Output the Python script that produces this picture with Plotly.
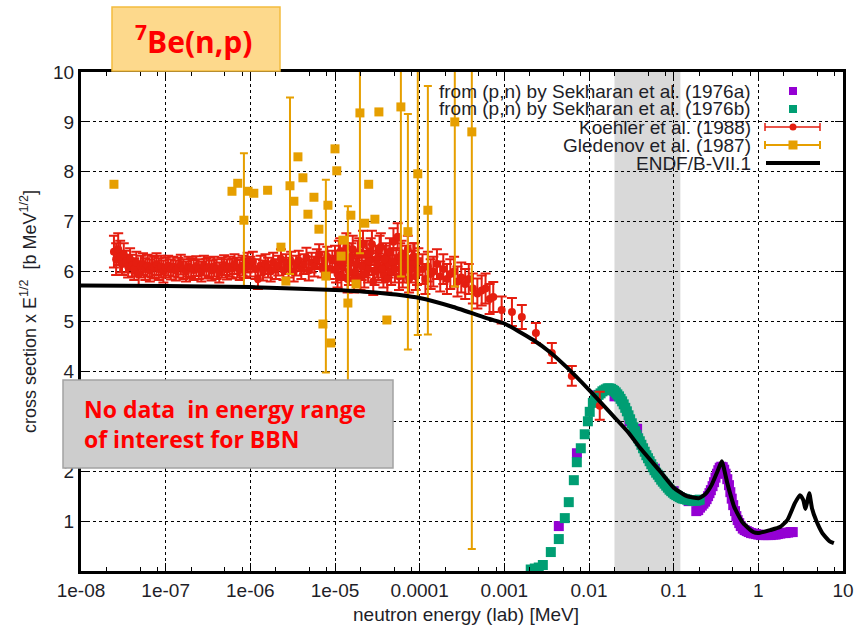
import math
import plotly.graph_objects as go

# ---------------- data ----------------
# Sekharan et al. (1976a) from (p,n)  [purple]
sek_a_E = [0.0044, 0.0072, 0.0124, 0.02, 0.03, 0.037, 0.06, 0.1, 0.15,
           0.185, 0.195, 0.205, 0.215, 0.225, 0.235, 0.245, 0.255, 0.265, 0.275,
           0.288, 0.3, 0.312, 0.325, 0.337, 0.35, 0.365, 0.38, 0.395, 0.41,
           0.43, 0.45, 0.467, 0.485, 0.505, 0.53, 0.55, 0.57, 0.595, 0.62,
           0.655, 0.69, 0.73, 0.77, 0.82, 0.88, 0.94, 1.0, 1.07, 1.15,
           1.22, 1.3, 1.4, 1.5, 1.6, 1.7, 1.82, 1.95, 2.1, 2.25, 2.4, 2.55]
sek_a_y = [0.9, 2.36, 3.52, 3.5, 3.0, 2.85, 2.05, 1.6, 1.4,
           1.2, 1.22, 1.27, 1.31, 1.35, 1.39, 1.44, 1.5, 1.56, 1.62,
           1.7, 1.78, 1.87, 1.95, 2.02, 2.07, 2.09, 2.08, 2.03, 1.95,
           1.84, 1.72, 1.58, 1.45, 1.32, 1.2, 1.1, 1.02, 0.96, 0.9,
           0.85, 0.82, 0.8, 0.78, 0.76, 0.75, 0.74, 0.73, 0.72, 0.72,
           0.72, 0.72, 0.72, 0.73, 0.73, 0.74, 0.75, 0.76, 0.76, 0.77, 0.78, 0.78]

# Sekharan et al. (1976b) from (p,n)  [green]
sek_b_E = [0.00205, 0.00229, 0.00255, 0.00285, 0.00354, 0.0044, 0.00518, 0.00577,
           0.00662, 0.00718, 0.0080, 0.0089, 0.0097, 0.0102, 0.0111, 0.0118,
           0.0124, 0.013, 0.0137, 0.0144, 0.0151, 0.0158, 0.0166, 0.0174, 0.0182,
           0.019, 0.0198, 0.0207, 0.0216, 0.0226, 0.0236, 0.0246, 0.0257, 0.0268,
           0.028, 0.0293, 0.0306, 0.032, 0.0334, 0.0349, 0.0365, 0.0381, 0.0398,
           0.0416, 0.0435, 0.0455, 0.0476, 0.0498, 0.052, 0.0544, 0.0568, 0.0594,
           0.0621, 0.065, 0.068, 0.0712, 0.0745, 0.078, 0.0816, 0.0854, 0.0894,
           0.0936, 0.098, 0.1026, 0.1074, 0.1125, 0.118, 0.124, 0.13, 0.137,
           0.144, 0.151, 0.159, 0.167, 0.176, 0.185, 0.194, 0.203]
sek_b_y = [0.03, 0.05, 0.07, 0.12, 0.38, 0.64, 1.06, 1.38,
           1.82, 2.18, 2.46, 2.74, 3.0, 3.19, 3.37, 3.44,
           3.49, 3.53, 3.56, 3.6, 3.62, 3.64, 3.66, 3.66, 3.65,
           3.63, 3.61, 3.58, 3.54, 3.5, 3.45, 3.4, 3.34, 3.27,
           3.2, 3.12, 3.04, 2.96, 2.88, 2.8, 2.73, 2.66, 2.6,
           2.53, 2.46, 2.39, 2.32, 2.26, 2.2, 2.14, 2.08, 2.02,
           1.97, 1.93, 1.88, 1.83, 1.79, 1.75, 1.71, 1.67, 1.63,
           1.6, 1.57, 1.54, 1.52, 1.5, 1.48, 1.46, 1.45, 1.44,
           1.43, 1.42, 1.42, 1.41, 1.41, 1.41, 1.42, 1.43]

# Koehler et al. (1988)  [red]
koehler_E = [
    2.45e-8, 2.6e-8, 2.75e-8, 2.9e-8, 3.05e-8, 3.2e-8, 3.4e-8, 3.6e-8, 3.8e-8, 4.0e-8,
    4.25e-8, 4.5e-8, 4.8e-8, 5.1e-8, 5.4e-8, 5.75e-8, 6.1e-8, 6.5e-8, 6.9e-8, 7.35e-8,
    7.8e-8, 8.3e-8, 8.85e-8, 9.4e-8,
    1.0e-7, 1.07e-7, 1.15e-7, 1.23e-7, 1.32e-7, 1.41e-7, 1.51e-7, 1.62e-7, 1.74e-7, 1.86e-7,
    2.0e-7, 2.14e-7, 2.3e-7, 2.46e-7, 2.64e-7, 2.83e-7, 3.03e-7, 3.25e-7, 3.48e-7, 3.73e-7,
    4.0e-7, 4.3e-7, 4.6e-7, 4.9e-7, 5.3e-7, 5.7e-7, 6.1e-7, 6.5e-7, 7.0e-7, 7.5e-7,
    8.1e-7, 8.7e-7, 9.3e-7,
    1.0e-6, 1.07e-6, 1.15e-6, 1.23e-6, 1.32e-6, 1.41e-6, 1.51e-6, 1.62e-6, 1.74e-6, 1.86e-6,
    2.0e-6, 2.14e-6, 2.3e-6, 2.46e-6, 2.64e-6, 2.83e-6, 3.03e-6, 3.25e-6, 3.48e-6, 3.73e-6,
    4.0e-6, 4.3e-6, 4.6e-6, 4.9e-6, 5.3e-6, 5.7e-6, 6.1e-6, 6.5e-6, 7.0e-6, 7.5e-6,
    8.1e-6, 8.7e-6, 9.3e-6,
    1.0e-5, 1.07e-5, 1.15e-5, 1.23e-5, 1.32e-5, 1.41e-5, 1.51e-5, 1.62e-5, 1.74e-5, 1.86e-5,
    2.0e-5, 2.14e-5, 2.3e-5, 2.46e-5, 2.64e-5, 2.83e-5, 3.03e-5, 3.25e-5, 3.48e-5, 3.73e-5,
    4.0e-5, 4.3e-5, 4.6e-5, 4.9e-5, 5.3e-5, 5.7e-5, 6.1e-5, 6.5e-5, 7.0e-5, 7.5e-5,
    8.1e-5, 8.7e-5, 9.3e-5,
    1.03e-5, 1.11e-5, 1.19e-5, 1.27e-5, 1.36e-5, 1.46e-5, 1.56e-5, 1.68e-5, 1.8e-5, 1.93e-5,
    2.07e-5, 2.22e-5, 2.38e-5, 2.55e-5, 2.73e-5, 2.93e-5, 3.14e-5, 3.36e-5, 3.6e-5, 3.86e-5,
    4.15e-5, 4.45e-5, 4.75e-5, 5.1e-5, 5.5e-5, 5.9e-5, 6.3e-5, 6.75e-5, 7.25e-5, 7.8e-5,
    8.4e-5, 9.0e-5, 9.65e-5,
    1.08e-4, 1.17e-4, 1.25e-4, 1.35e-4, 1.45e-4, 1.6e-4, 1.75e-4, 1.9e-4, 2.1e-4, 2.3e-4,
    2.55e-4, 2.8e-4, 3.1e-4, 3.45e-4, 3.8e-4, 4.25e-4, 4.8e-4, 5.4e-4, 6.0e-4, 6.7e-4,
    7.4e-4, 9.3e-4, 1.23e-3, 1.61e-3, 2.36e-3, 3.64e-3, 6.27e-3, 1.34e-2]
koehler_y = [
    6.40, 6.25, 6.45, 6.30, 6.15, 6.35, 6.20, 6.10, 6.25, 6.12,
    6.05, 6.18, 5.95, 6.10, 6.15, 6.05, 6.12, 6.02, 6.10, 6.08,
    6.15, 6.05, 6.10, 6.00,
    6.08, 6.12, 6.04, 6.10, 6.02, 6.08, 6.14, 6.05, 6.00, 6.10,
    6.07, 6.03, 6.11, 6.05, 6.00, 6.12, 6.06, 6.09, 6.02, 6.10,
    6.05, 5.98, 6.08, 6.13, 6.04, 6.10, 6.06, 6.15, 6.08, 6.03,
    6.12, 6.07, 6.18,
    6.10, 6.20, 6.05, 5.85, 6.12, 6.02, 6.15, 6.08, 6.00, 6.18,
    6.05, 6.12, 6.25, 6.03, 6.15, 6.08, 6.20, 6.00, 6.12, 6.22,
    6.05, 6.15, 6.28, 6.02, 6.18, 6.10, 6.25, 6.35, 6.08, 6.20,
    6.30, 6.05, 6.22,
    6.25, 5.95, 6.40, 6.10, 6.30, 5.85, 6.20, 6.45, 6.00, 6.35,
    5.90, 6.55, 6.15, 6.05, 6.40, 5.80, 6.25, 6.10, 6.50, 5.95,
    6.30, 6.15, 6.00, 6.60, 6.20, 5.90, 6.35, 6.05, 6.25, 5.85,
    6.15, 6.30, 6.00,
    6.05, 6.35, 5.90, 6.20, 6.50, 6.00, 6.30, 5.85, 6.15, 6.40,
    6.10, 5.95, 6.35, 6.20, 6.55, 6.00, 6.15, 6.45, 6.05, 6.25,
    5.85, 6.40, 6.20, 6.05, 6.70, 6.30, 5.95, 6.15, 6.45, 6.05,
    6.30, 5.90, 6.20,
    6.05, 5.85, 6.10, 5.95, 6.00, 6.15, 5.90, 6.05, 5.85, 5.95,
    6.00, 5.80, 5.88, 5.75, 5.85, 5.66, 5.56, 5.62, 5.66, 5.45,
    5.49, 5.23, 5.19, 5.09, 4.77, 4.37, 3.91, 3.31]
koehler_err = ([0.32] * 4 + [0.22] * 20 + [0.2] * 33 + [0.2] * 33 + [0.27] * 33
               + [0.27] * 33
               + [0.3] * 21 + [0.27, 0.28, 0.24, 0.2, 0.2, 0.2, 0.28])

# Gledenov et al. (1987)  [orange]
gled_E = [2.45e-8, 6.07e-7, 7.1e-7, 8.4e-7, 9.4e-7, 1.1e-6, 1.6e-6, 2.3e-6, 2.63e-6,
          2.94e-6, 3.27e-6, 3.65e-6, 4.18e-6, 4.79e-6, 5.64e-6, 6.46e-6, 7.2e-6, 7.8e-6,
          8.25e-6, 8.95e-6, 1.0e-5, 1.05e-5, 1.18e-5, 1.24e-5, 1.42e-5, 1.54e-5, 1.77e-5,
          1.97e-5, 2.25e-5, 2.5e-5, 2.96e-5, 3.3e-5, 4.1e-5, 6.0e-5, 7.26e-5, 9.5e-5,
          1.25e-4, 2.6e-4, 4.13e-4]
gled_y = [7.75, 7.61, 7.77, 7.03, 7.61, 7.57, 7.63, 6.49, 5.81,
          7.72, 7.41, 8.3, 7.88, 7.15, 7.49, 6.85, 4.95, 5.91,
          7.33, 4.57, 8.46, 8.02, 6.31, 6.63, 5.37, 7.13, 5.75,
          9.18, 6.97, 7.75, 7.05, 9.2, 5.03, 9.3, 6.8, 7.96,
          7.23, 9.0, 8.8]
gled_err = [0, 0, 0, 1.34, 0, 0, 0, 0, 0,
            1.77, 0, 0, 0, 0, 0, 0, 0, 1.93,
            0, 0, 0, 0, 0, 0, 1.94, 0, 0,
            2.81, 0, 0, 0, 0, 0, 3.4, 2.36, 3.23,
            2.49, 3.3, 8.36]

# ENDF/B-VII.1 evaluation  [black line]
endf_E = [1e-8, 1e-7, 1e-6, 1e-5, 3e-5, 1e-4, 2.5e-4, 6.7e-4, 1e-3, 2.2e-3, 3.5e-3,
          5.4e-3, 1e-2, 2e-2, 2.9e-2, 4e-2, 6.9e-2, 0.1, 0.143, 0.2, 0.24, 0.28, 0.33,
          0.37, 0.43, 0.52, 0.66, 0.87, 1.0, 1.38, 1.8, 2.2, 2.7, 3.1, 3.4, 3.6, 3.85,
          4.0, 4.3, 4.8, 5.7, 6.9, 7.8]
endf_y = [5.72, 5.71, 5.69, 5.63, 5.58, 5.47, 5.29, 5.05, 4.96, 4.63, 4.38,
          4.09, 3.63, 3.08, 2.78, 2.47, 2.0, 1.67, 1.5, 1.46, 1.55, 1.72, 2.0,
          2.2, 1.76, 1.28, 0.96, 0.78, 0.76, 0.82, 0.88, 1.02, 1.36, 1.52, 1.42, 1.24, 1.45,
          1.56, 1.26, 1.02, 0.76, 0.6, 0.56]

# BBN energy range band (MeV)
band_lo, band_hi = 0.02, 0.12

x_tickvals = [1e-8, 1e-7, 1e-6, 1e-5, 1e-4, 1e-3, 1e-2, 1e-1, 1, 10]
x_ticktext = ["1e-08", "1e-07", "1e-06", "1e-05", "0.0001", "0.001", "0.01", "0.1", "1", "10"]
y_tickvals = [1, 2, 3, 4, 5, 6, 7, 8, 9, 10]

legend_labels = ["from (p,n) by Sekharan et al. (1976a)",
                 "from (p,n) by Sekharan et al. (1976b)",
                 "Koehler et al. (1988)",
                 "Gledenov et al. (1987)",
                 "ENDF/B-VII.1"]

# ---------------- styling / layout ----------------
W, H = 856, 629
ML, MR, MT, MB = 81, 13, 72, 58
PW, PH = W - ML - MR, H - MT - MB

C_PURPLE = "#9400d3"
C_GREEN = "#009e73"
C_RED = "#e51e10"
C_ORANGE = "#e69f00"
TXT = "#1e1e28"
GNU_FONT = "Liberation Sans"


def px(x):
    return (x - ML) / PW


def py(y):
    return (H - MB - y) / PH


def lx(v):
    return (math.log10(v) + 8) / 9


fig = go.Figure()

fig.add_trace(go.Scatter(x=sek_a_E, y=sek_a_y, mode="markers",
                         marker=dict(symbol="square", size=10, color=C_PURPLE),
                         showlegend=False))
fig.add_trace(go.Scatter(x=sek_b_E, y=sek_b_y, mode="markers",
                         marker=dict(symbol="square", size=10, color=C_GREEN),
                         showlegend=False))
fig.add_trace(go.Scatter(x=koehler_E, y=koehler_y, mode="markers",
                         marker=dict(symbol="circle", size=8, color=C_RED),
                         error_y=dict(type="data", array=koehler_err, visible=True,
                                      color=C_RED, thickness=2, width=5),
                         showlegend=False))
fig.add_trace(go.Scatter(x=gled_E, y=gled_y, mode="markers",
                         marker=dict(symbol="square", size=9, color=C_ORANGE),
                         error_y=dict(type="data", array=gled_err, visible=True,
                                      color=C_ORANGE, thickness=2, width=4),
                         showlegend=False))
fig.add_trace(go.Scatter(x=endf_E, y=endf_y, mode="lines",
                         line=dict(color="black", width=4, shape="spline", smoothing=0.5),
                         showlegend=False))

minor_vals = []
for d in range(-8, 1):
    for m in (2, 5, 8):
        minor_vals.append(m * 10.0 ** d)

axis_common = dict(ticks="inside", ticklen=8, tickwidth=1, tickcolor="black",
                   showline=True, linewidth=3, linecolor="black", mirror="allticks",
                   showgrid=True, gridcolor="black", griddash="dot", gridwidth=1,
                   zeroline=False, automargin=False,
                   tickfont=dict(family=GNU_FONT, size=19, color=TXT))

shapes = []
# BBN band
shapes.append(dict(type="rect", xref="paper", yref="paper", x0=lx(band_lo), x1=lx(band_hi),
                   y0=0, y1=1, fillcolor="#d9d9d9", line=dict(width=0), layer="below"))
# opaque key background
key_bot, key_left = 170, 322
shapes.append(dict(type="rect", xref="paper", yref="paper", x0=px(key_left), x1=1,
                   y0=py(key_bot), y1=1, fillcolor="white", line=dict(width=0), layer="between"))
shapes.append(dict(type="rect", xref="paper", yref="paper", x0=lx(band_lo), x1=lx(band_hi),
                   y0=py(key_bot), y1=1, fillcolor="#d9d9d9", line=dict(width=0), layer="between"))

# title box
shapes.append(dict(type="rect", xref="paper", yref="paper", x0=px(112), x1=px(280),
                   y0=py(71), y1=py(7), fillcolor="#fdd98c",
                   line=dict(color="#f3bc3e", width=1.5), layer="above"))
# info box
shapes.append(dict(type="rect", xref="paper", yref="paper", x0=px(63), x1=px(393),
                   y0=py(468), y1=py(380), fillcolor="#cdcdcd",
                   line=dict(color="#a3a3a3", width=1.5), layer="above"))

# legend samples
rows = [91, 109, 127, 145, 163]
sx0, sx1, sxc = 765, 820, 793
for r, c in ((rows[0], C_PURPLE), (rows[1], C_GREEN)):
    shapes.append(dict(type="rect", xref="paper", yref="paper", x0=px(sxc - 4), x1=px(sxc + 4),
                       y0=py(r + 4), y1=py(r - 4), fillcolor=c, line=dict(width=0), layer="above"))
for r, c, w in ((rows[2], C_RED, 1.5), (rows[3], C_ORANGE, 2)):
    shapes.append(dict(type="line", xref="paper", yref="paper", x0=px(sx0), x1=px(sx1),
                       y0=py(r), y1=py(r), line=dict(color=c, width=w), layer="above"))
    for xx in (sx0, sx1):
        shapes.append(dict(type="line", xref="paper", yref="paper", x0=px(xx), x1=px(xx),
                           y0=py(r - 4), y1=py(r + 4), line=dict(color=c, width=w), layer="above"))
shapes.append(dict(type="circle", xref="paper", yref="paper", x0=px(sxc - 3.5), x1=px(sxc + 3.5),
                   y0=py(rows[2] + 3.5), y1=py(rows[2] - 3.5), fillcolor=C_RED,
                   line=dict(width=0), layer="above"))
shapes.append(dict(type="rect", xref="paper", yref="paper", x0=px(sxc - 4.5), x1=px(sxc + 4.5),
                   y0=py(rows[3] + 4.5), y1=py(rows[3] - 4.5), fillcolor=C_ORANGE,
                   line=dict(width=0), layer="above"))
shapes.append(dict(type="line", xref="paper", yref="paper", x0=px(766), x1=px(820),
                   y0=py(rows[4]), y1=py(rows[4]), line=dict(color="black", width=4), layer="above"))

annotations = []
for r, t in zip(rows, legend_labels):
    annotations.append(dict(xref="paper", yref="paper", x=px(753), y=py(r), text=t,
                            xanchor="right", yanchor="middle", showarrow=False,
                            font=dict(family=GNU_FONT, size=19, color=TXT)))
# axis titles
annotations.append(dict(xref="paper", yref="paper", x=px(466), y=py(614),
                        text="neutron energy (lab) [MeV]", xanchor="center", yanchor="middle",
                        showarrow=False, font=dict(family=GNU_FONT, size=19, color=TXT)))
annotations.append(dict(xref="paper", yref="paper", x=px(28), y=py(312),
                        text="cross section x E<sup>1/2</sup>\u00a0 [b MeV<sup>1/2</sup>]",
                        textangle=-90, xanchor="center", yanchor="middle",
                        showarrow=False, font=dict(family=GNU_FONT, size=18, color=TXT)))
# title
annotations.append(dict(xref="paper", yref="paper", x=px(193), y=py(40),
                        text="<b><sup>7</sup>Be(n,p)</b>", xanchor="center", yanchor="middle",
                        showarrow=False, font=dict(family="Open Sans", size=30, color="#ff0000")))
# info text
annotations.append(dict(xref="paper", yref="paper", x=px(82), y=py(424),
                        text="<b>No data\u00a0 in energy range<br>of interest for BBN</b>",
                        xanchor="left", yanchor="middle", align="left",
                        showarrow=False, font=dict(family="Open Sans", size=23, color="#ff0000")))

fig.update_layout(
    width=W, height=H,
    margin=dict(l=ML, r=MR, t=MT, b=MB, pad=0),
    paper_bgcolor="white", plot_bgcolor="white",
    showlegend=False,
    xaxis=dict(type="log", range=[-8, 1], tickvals=x_tickvals, ticktext=x_ticktext,
               minor=dict(tickmode="array", tickvals=minor_vals, ticks="inside", ticklen=4,
                          tickcolor="black", showgrid=False),
               **axis_common),
    yaxis=dict(range=[0, 10], tickvals=y_tickvals, **axis_common),
    shapes=shapes,
    annotations=annotations,
)

fig.write_html("out.html")
